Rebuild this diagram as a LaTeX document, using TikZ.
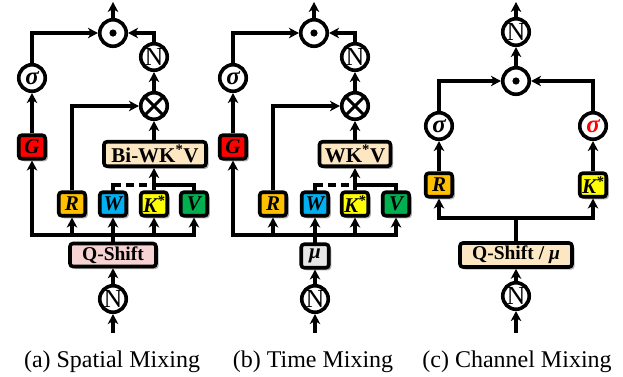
\documentclass[tikz,border=0pt]{standalone}
\usepackage{fontspec}
\setmainfont{Liberation Serif}
\usetikzlibrary{arrows.meta,shadows,calc}
\definecolor{cRed}{HTML}{FF0000}
\definecolor{cOrange}{HTML}{FFC000}
\definecolor{cBlue}{HTML}{00B0F0}
\definecolor{cYellow}{HTML}{FFFF00}
\definecolor{cGreen}{HTML}{00B050}
\definecolor{cBeige}{HTML}{FDE6C2}
\definecolor{cPink}{HTML}{F6D2D2}
\definecolor{cGray}{HTML}{E7E6E6}
\tikzset{
  op/.style={circle, draw, line width=3.6pt, fill=white, minimum size=26.5pt, inner sep=0pt},
  nop/.style={op, font=\fontsize{26}{26}\selectfont},
  sop/.style={op, font=\fontsize{25}{25}\selectfont\bfseries\itshape},
  box/.style={draw, line width=3.6pt, rounded corners=3pt, inner sep=0pt,
    drop shadow={shadow xshift=2.5pt, shadow yshift=-2.5pt, fill=black, opacity=0.3},
    font=\fontsize{19.5}{20}\selectfont\bfseries},
  sbox/.style={box, minimum width=26.5pt, minimum height=23.5pt, font=\fontsize{21}{21}\selectfont\bfseries\itshape},
  wbox/.style={box, minimum height=24.5pt, font=\fontsize{21}{21}\selectfont\bfseries},
  conn/.style={line width=3.6pt, line cap=rect},
  arr/.style={line width=3.6pt, -{Stealth[length=10pt,width=10.5pt,inset=3pt]}},
  dsh/.style={line width=3.6pt, dash pattern=on 8pt off 5pt},
  captxt/.style={font=\fontsize{24}{26}\selectfont, inner sep=0pt},
}
\newcommand{\odotmark}[1]{\fill (#1) circle (3.6pt);}
\newcommand{\otimesmark}[1]{\draw[line width=3pt] ($(#1)+(-9,-9)$) -- ($(#1)+(9,9)$) ($(#1)+(-9,9)$) -- ($(#1)+(9,-9)$);}
\begin{document}
\begin{tikzpicture}[x=1pt,y=-1pt]
\useasboundingbox (0,0) rectangle (623,376);

%%%%%%%%%%%% Panel (a)
\coordinate (oA) at (113,2);
\coordinate (tA) at (0,185);
\coordinate (barA) at (0,235);
\coordinate (inA) at (113,333);
\node[op] (dA) at (113,33) {}; \odotmark{dA}
\node[nop] (nA) at (154,57) {N};
\node[sop] (sA) at (32,78) {σ};
\node[op] (xA) at (154,106) {}; \otimesmark{xA}
\node[sbox, fill=cRed] (gA) at (32,147) {G};
\node[wbox, fill=cBeige, minimum width=102pt] (bA) at (155,154) {Bi-WK\textsuperscript{*}V};
\node[sbox, fill=cOrange] (rA) at (72,204) {R};
\node[sbox, fill=cBlue] (wA) at (113,204) {W};
\node[sbox, fill=cYellow] (kA) at (154,204) {K\textsuperscript{*}};
\node[sbox, fill=cGreen] (vA) at (194,204) {V};
\node[box, fill=cPink, minimum width=86pt, minimum height=23pt] (qA) at (113,255) {Q-Shift};
\node[nop] (niA) at (113,299) {N};

\draw[arr] (dA.north) -- (oA);
\draw[arr] (sA.north) |- (dA.west);
\draw[arr] (nA.north) |- (dA.east);
\draw[arr] (xA.north) -- (nA.south);
\draw[arr] (xA.south |- bA.north) -- (xA.south);
\draw[arr] (gA.north) -- (sA.south);
\draw[arr] (rA.north) |- (xA.west);
\draw[arr] (kA.north) -- (kA.north |- bA.south);
\draw[conn] (wA.north) -- (wA.north |- tA);
\draw[dsh] (wA.north |- tA) -- (kA.north |- tA);
\draw[conn] (vA.north) |- (kA.north |- tA);
\draw[conn] (gA.south |- barA) -- (vA.south |- barA);
\draw[arr] (gA.south |- barA) -- (gA.south);
\draw[arr] (rA.south |- barA) -- (rA.south);
\draw[arr] (wA.south |- barA) -- (wA.south);
\draw[arr] (kA.south |- barA) -- (kA.south);
\draw[arr] (vA.south |- barA) -- (vA.south);
\draw[conn] (qA.north) -- (qA.north |- barA);
\draw[arr] (niA.north) -- (qA.south);
\draw[arr] (inA) -- (niA.south);

%%%%%%%%%%%% Panel (b)
\coordinate (oB) at (314,2);
\coordinate (tB) at (0,185);
\coordinate (barB) at (0,235);
\coordinate (inB) at (315,333);
\node[op] (dB) at (314,33) {}; \odotmark{dB}
\node[nop] (nB) at (355,57) {N};
\node[sop] (sB) at (233,78) {σ};
\node[op] (xB) at (355,106) {}; \otimesmark{xB}
\node[sbox, fill=cRed] (gB) at (233,147) {G};
\node[wbox, fill=cBeige, minimum width=71pt] (bB) at (355,154) {WK\textsuperscript{*}V};
\node[sbox, fill=cOrange] (rB) at (273,204) {R};
\node[sbox, fill=cBlue] (wB) at (315,204) {W};
\node[sbox, fill=cYellow] (kB) at (355,204) {K\textsuperscript{*}};
\node[sbox, fill=cGreen] (vB) at (396,204) {V};
\node[sbox, fill=cGray, minimum width=27.5pt] (mB) at (315,256) {μ};
\node[nop] (niB) at (315,299) {N};

\draw[arr] (dB.north) -- (oB);
\draw[arr] (sB.north) |- (dB.west);
\draw[arr] (nB.north) |- (dB.east);
\draw[arr] (xB.north) -- (nB.south);
\draw[arr] (xB.south |- bB.north) -- (xB.south);
\draw[arr] (gB.north) -- (sB.south);
\draw[arr] (rB.north) |- (xB.west);
\draw[arr] (kB.north) -- (kB.north |- bB.south);
\draw[conn] (wB.north) -- (wB.north |- tB);
\draw[dsh] (wB.north |- tB) -- (kB.north |- tB);
\draw[conn] (vB.north) |- (kB.north |- tB);
\draw[conn] (gB.south |- barB) -- (vB.south |- barB);
\draw[arr] (gB.south |- barB) -- (gB.south);
\draw[arr] (rB.south |- barB) -- (rB.south);
\draw[arr] (wB.south |- barB) -- (wB.south);
\draw[arr] (kB.south |- barB) -- (kB.south);
\draw[arr] (vB.south |- barB) -- (vB.south);
\draw[conn] (mB.north) -- (mB.north |- barB);
\draw[arr] (niB.north) -- (mB.south);
\draw[arr] (inB) -- (niB.south);

%%%%%%%%%%%% Panel (c)
\coordinate (oC) at (516,2);
\coordinate (barC) at (0,218);
\coordinate (inC) at (516,333);
\node[nop] (nC) at (516,32) {N};
\node[op] (dC) at (516,81) {}; \odotmark{dC}
\node[sop] (sC) at (439,126) {σ};
\node[sop] (sC2) at (593,126) {\textcolor{cRed}{σ}};
\node[sbox, fill=cOrange] (rC) at (439,185) {R};
\node[sbox, fill=cYellow] (kC) at (593,185) {K\textsuperscript{*}};
\node[box, fill=cBeige, minimum width=112pt, minimum height=24pt] (qC) at (516,255) {Q-Shift / \itshape μ};
\node[nop] (niC) at (516,296) {N};

\draw[arr] (nC.north) -- (oC);
\draw[arr] (dC.north) -- (nC.south);
\draw[arr] (sC.north) |- (dC.west);
\draw[arr] (sC2.north) |- (dC.east);
\draw[arr] (rC.north) -- (sC.south);
\draw[arr] (kC.north) -- (sC2.south);
\draw[conn] (rC.south |- barC) -- (kC.south |- barC);
\draw[arr] (rC.south |- barC) -- (rC.south);
\draw[arr] (kC.south |- barC) -- (kC.south);
\draw[conn] (qC.north) -- (qC.north |- barC);
\draw[arr] (niC.north) -- (qC.south);
\draw[arr] (inC) -- (niC.south);

%%%%%%%%%%%% Captions
\node[captxt] (capA) at (112,362) {(a) Spatial Mixing};
\node[captxt] (capB) at (313,362) {(b) Time Mixing};
\node[captxt] (capC) at (517,362) {(c) Channel Mixing};
\end{tikzpicture}
\end{document}
